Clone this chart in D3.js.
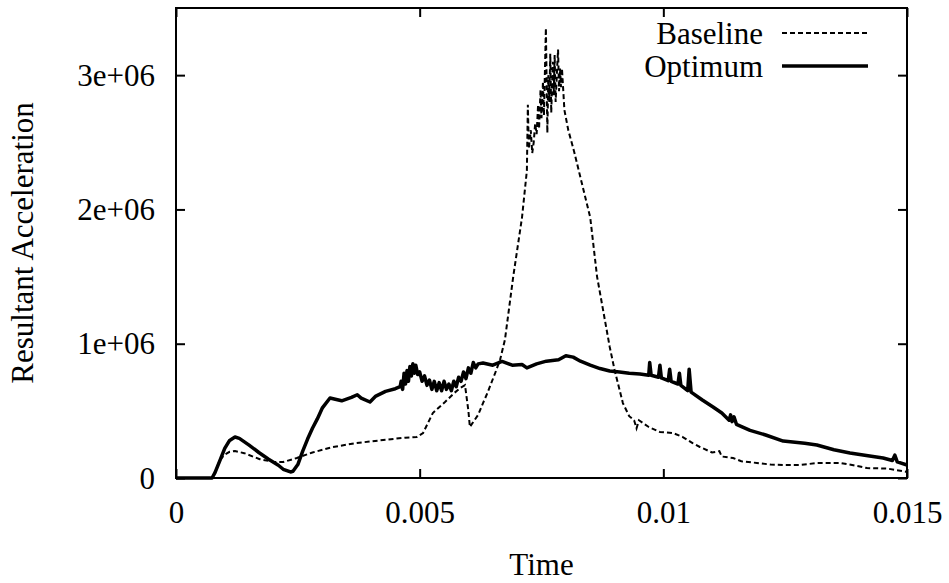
<!DOCTYPE html>
<html>
<head>
<meta charset="utf-8">
<script src="https://cdn.jsdelivr.net/npm/d3@7"></script>
<style>
  body { margin: 0; background: #fff; }
  text { font-family: "Liberation Serif", "DejaVu Serif", serif; font-size: 31px; fill: #000; }
</style>
</head>
<body>
<script>
'use strict';

// time [s], resultant acceleration
var baseline = [
    [0, 0], [0.00074, 0], [0.0008, 40e3], [0.0009, 134e3], [0.001, 175e3], [0.0011, 195e3],
    [0.00121, 201e3], [0.0014, 185e3], [0.00172, 140e3], [0.002, 120e3], [0.0022, 119e3],
    [0.00248, 149e3], [0.0028, 190e3], [0.00322, 231e3], [0.0037, 260e3], [0.00425, 283e3],
    [0.0047, 300e3], [0.00494, 305e3], [0.00507, 335e3], [0.00527, 484e3], [0.00552, 566e3],
    [0.0057, 630e3], [0.00583, 670e3], [0.00593, 692e3], [0.006, 500e3], [0.00603, 380e3],
    [0.0062, 470e3], [0.0063, 558e3], [0.00639, 633e3], [0.00655, 782e3], [0.00665, 880e3],
    [0.00675, 1030e3], [0.00692, 1500e3], [0.0071, 1940e3], [0.0072, 2290e3],
    [0.00722, 2780e3], [0.00724, 2450e3], [0.00728, 2590e3], [0.00731, 2420e3], [0.00734, 2500e3],
    [0.00737, 2640e3], [0.0074, 2560e3], [0.00743, 2780e3], [0.00745, 2600e3], [0.00748, 2890e3],
    [0.0075, 2680e3], [0.00753, 2950e3], [0.00755, 2700e3], [0.00759, 3350e3], [0.00762, 2570e3],
    [0.00764, 3000e3], [0.00766, 2800e3], [0.00768, 3160e3], [0.0077, 2720e3], [0.00773, 3100e3],
    [0.00775, 2850e3], [0.00777, 3150e3], [0.00779, 2800e3], [0.00782, 3050e3], [0.00784, 3190e3],
    [0.00786, 2880e3], [0.00788, 3050e3], [0.0079, 2910e3], [0.00792, 3050e3], [0.00797, 2740e3],
    [0.00805, 2590e3], [0.00817, 2430e3],
    [0.0085, 1940e3], [0.00864, 1500e3], [0.0089, 976e3], [0.009, 804e3], [0.00917, 558e3],
    [0.0093, 460e3], [0.0094, 430e3], [0.00945, 370e3], [0.0095, 430e3], [0.0097, 380e3],
    [0.00993, 343e3], [0.0102, 335e3], [0.0104, 305e3], [0.0106, 260e3], [0.01075, 231e3],
    [0.011, 190e3], [0.01115, 200e3], [0.0112, 160e3], [0.01143, 149e3], [0.0116, 125e3],
    [0.01192, 112e3], [0.0122, 100e3], [0.0125, 97e3], [0.0128, 97e3], [0.013, 105e3],
    [0.01315, 112e3], [0.0134, 112e3], [0.01362, 112e3], [0.0139, 95e3], [0.01418, 74e3],
    [0.0146, 70e3], [0.015, 45e3]
];

var optimum = [
    [0, 0], [0.00074, 0], [0.0008, 40e3], [0.0009, 130e3], [0.001, 220e3], [0.0011, 280e3],
    [0.00121, 305e3], [0.0013, 295e3], [0.0015, 245e3], [0.0017, 190e3], [0.0019, 140e3],
    [0.0021, 95e3], [0.0022, 65e3], [0.00235, 45e3], [0.0024, 50e3], [0.0025, 100e3],
    [0.0026, 200e3], [0.0027, 290e3], [0.0028, 370e3], [0.0029, 440e3], [0.003, 520e3],
    [0.00316, 596e3], [0.0034, 575e3], [0.0036, 600e3], [0.00372, 620e3], [0.0038, 595e3],
    [0.00398, 566e3], [0.0041, 610e3], [0.0043, 645e3], [0.0045, 665e3], [0.0046, 680e3],
    [0.00462, 720e3], [0.00465, 660e3], [0.00468, 780e3], [0.00471, 700e3], [0.00474, 800e3],
    [0.00477, 720e3], [0.0048, 830e3], [0.00483, 760e3], [0.00486, 850e3], [0.00489, 780e3],
    [0.00492, 840e3], [0.00496, 770e3], [0.005, 790e3], [0.00505, 720e3], [0.0051, 760e3],
    [0.00515, 690e3], [0.0052, 730e3], [0.00525, 660e3], [0.0053, 720e3], [0.00535, 650e3],
    [0.0054, 710e3], [0.00545, 650e3], [0.0055, 720e3], [0.00555, 660e3], [0.0056, 700e3],
    [0.00565, 650e3], [0.0057, 720e3], [0.00575, 680e3], [0.0058, 750e3], [0.00585, 720e3],
    [0.0059, 790e3], [0.00595, 740e3], [0.006, 820e3], [0.00605, 780e3], [0.0061, 860e3],
    [0.00615, 820e3], [0.0062, 850e3], [0.0063, 856e3], [0.0065, 840e3], [0.00669, 868e3],
    [0.0069, 840e3], [0.0071, 845e3], [0.0072, 820e3], [0.0074, 850e3], [0.0076, 870e3],
    [0.00785, 880e3], [0.008, 910e3], [0.00815, 900e3], [0.0083, 870e3], [0.0085, 840e3],
    [0.0087, 815e3], [0.0089, 797e3], [0.0091, 790e3], [0.0093, 780e3], [0.00952, 775e3],
    [0.0097, 765e3], [0.00972, 860e3], [0.00975, 765e3], [0.0099, 750e3], [0.00993, 840e3],
    [0.00996, 745e3], [0.0101, 725e3], [0.01013, 810e3], [0.01016, 720e3], [0.0103, 700e3],
    [0.01033, 780e3], [0.01036, 690e3], [0.0105, 650e3], [0.01053, 810e3], [0.01057, 640e3],
    [0.0108, 581e3], [0.01102, 529e3], [0.0112, 484e3], [0.01135, 430e3], [0.01138, 470e3],
    [0.01141, 420e3], [0.01145, 455e3], [0.0115, 400e3], [0.01178, 355e3], [0.0121, 320e3],
    [0.01246, 275e3], [0.0129, 258e3], [0.01315, 246e3], [0.0135, 210e3], [0.01383, 186e3],
    [0.0142, 165e3], [0.01451, 149e3], [0.0147, 130e3], [0.01475, 170e3], [0.0148, 120e3],
    [0.015, 97e3]
];

var xTicks = [0, 0.005, 0.01, 0.015];
var yTicks = [0, 1e6, 2e6, 3e6];
var seriesNames = ["Baseline", "Optimum"];

var outerWidth = 949;
var outerHeight = 583;
var margin = { left: 176, top: 8, right: 42, bottom: 105 };
var innerWidth = outerWidth - margin.left - margin.right;
var innerHeight = outerHeight - margin.top - margin.bottom;
var tickLen = 9;
var fontFamily = "Liberation Serif, DejaVu Serif, serif";

var svg = d3.select("body").append("svg")
    .attr("width", outerWidth)
    .attr("height", outerHeight)
    .attr("font-family", fontFamily)
    .attr("font-size", 31);

var g = svg.append("g")
    .attr("transform", "translate(" + margin.left + "," + margin.top + ")");

var xScale = d3.scaleLinear().domain([0, 0.015]).range([0, innerWidth]);
var yScale = d3.scaleLinear().domain([0, 3.5e6]).range([innerHeight, 0]);

function yFormat(d) {
    return d === 0 ? "0" : (d / 1e6) + "e+06";
}

// axes, ticks pointing inward like gnuplot
var xAxisG = g.append("g")
    .attr("transform", "translate(0," + innerHeight + ")")
    .call(d3.axisBottom(xScale).tickValues(xTicks).tickFormat(d3.format("~g"))
        .tickSize(-tickLen).tickPadding(23));
var xTopG = g.append("g")
    .call(d3.axisTop(xScale).tickValues(xTicks).tickFormat("").tickSize(-tickLen));
var yAxisG = g.append("g")
    .call(d3.axisLeft(yScale).tickValues(yTicks).tickFormat(yFormat)
        .tickSize(-tickLen).tickPadding(21));
var yRightG = g.append("g")
    .attr("transform", "translate(" + innerWidth + ",0)")
    .call(d3.axisRight(yScale).tickValues(yTicks).tickFormat("").tickSize(-tickLen));

[xAxisG, xTopG, yAxisG, yRightG].forEach(function(a) {
    a.attr("font-size", 31).attr("font-family", fontFamily);
    a.select(".domain").remove();
    a.selectAll(".tick line").attr("stroke", "#000").attr("stroke-width", 2);
});
xAxisG.selectAll(".tick text").attr("dy", "0.72em");
yAxisG.selectAll(".tick text").attr("dy", "0.33em");
xTopG.selectAll(".tick text").remove();
yRightG.selectAll(".tick text").remove();

g.append("rect")
    .attr("width", innerWidth)
    .attr("height", innerHeight)
    .attr("fill", "none")
    .attr("stroke", "#000")
    .attr("stroke-width", 2);

var line = d3.line()
    .x(function(d) { return xScale(d[0]); })
    .y(function(d) { return yScale(d[1]); });

g.append("path")
    .datum(baseline)
    .attr("d", line)
    .attr("fill", "none")
    .attr("stroke", "#000")
    .attr("stroke-width", 2)
    .attr("stroke-dasharray", "5,3");

g.append("path")
    .datum(optimum)
    .attr("d", line)
    .attr("fill", "none")
    .attr("stroke", "#000")
    .attr("stroke-width", 3.5)
    .attr("stroke-linejoin", "round");

// axis titles
svg.append("text")
    .attr("x", margin.left + innerWidth / 2)
    .attr("y", 575)
    .attr("text-anchor", "middle")
    .text("Time");

svg.append("text")
    .attr("transform", "translate(33," + (margin.top + innerHeight / 2) + ") rotate(-90)")
    .attr("text-anchor", "middle")
    .text("Resultant Acceleration");

// legend
var legend = svg.append("g");
seriesNames.forEach(function(name, i) {
    var yy = 33 + i * 33;
    legend.append("text")
        .attr("x", 763)
        .attr("y", yy + 11)
        .attr("text-anchor", "end")
        .text(name);
    legend.append("line")
        .attr("x1", 782).attr("x2", 868)
        .attr("y1", yy).attr("y2", yy)
        .attr("stroke", "#000")
        .attr("stroke-width", i === 0 ? 2 : 3.5)
        .attr("stroke-dasharray", i === 0 ? "5,3" : null);
});
</script>
</body>
</html>
